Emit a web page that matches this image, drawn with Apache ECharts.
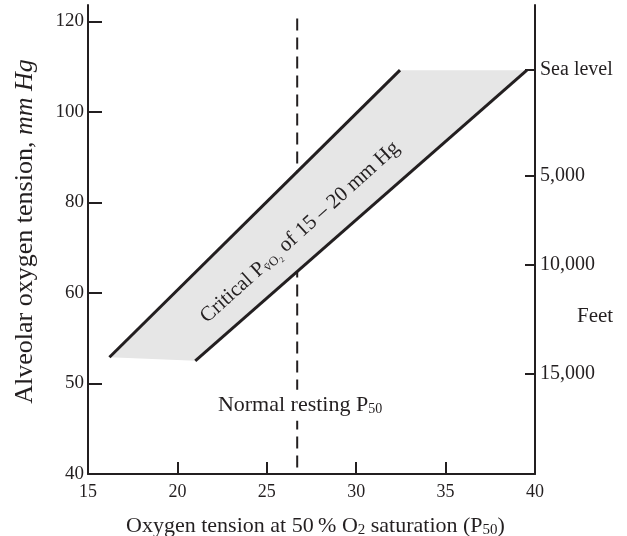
<!DOCTYPE html>
<html>
<head>
<meta charset="utf-8">
<script src="https://cdn.jsdelivr.net/npm/echarts@6/dist/echarts.min.js"></script>
<style>
	html, body { margin: 0; padding: 0; background: #fff; }
</style>
</head>
<body>
<div id="chart" style="width:627px;height:536px;"></div>
<script>
	// left axis tick labels (mm Hg) - the printed scale puts them at equal spacing
	var yTicks = [40, 50, 60, 80, 100, 120];
	// altitude scale on the right, placed at the matching alveolar tension
	var feetLabels = ['Sea level', '5,000', '10,000', '15,000'];
	var feetAt = [109.3, 85.8, 66.2, 51.1];

	// the shaded band: upper (left) and lower (right) edges
	var upperP50 = [16.2, 32.45];
	var upperPA = [52.9, 109.2];
	var lowerP50 = [21.0, 39.55];
	var lowerPA = [52.5, 109.2];

	var normalP50 = 26.7;
	var dashPA = [120.6, 40];

	// the y axis is drawn on tick positions, convert mm Hg -> position
	function toU(v) {
		var i = 0;
		while (i < yTicks.length - 2 && v > yTicks[i + 1]) i++;
		return i + (v - yTicks[i]) / (yTicks[i + 1] - yTicks[i]);
	}

	var font = 'Liberation Serif';
	var ink = '#231f20';

	var upperLine = upperP50.map(function(x, i) { return [x, toU(upperPA[i])]; });
	var lowerLine = lowerP50.map(function(x, i) { return [x, toU(lowerPA[i])]; });
	var band = upperLine.concat(lowerLine.slice().reverse());
	var feetU = feetAt.map(toU);

	var chart = echarts.init(document.getElementById('chart'));
	var option = {
		animation: false,
		grid: { left: 88, right: 92, top: 5, bottom: 62, outerBoundsMode: 'none', containLabel: false },
		xAxis: {
			type: 'value',
			min: 15,
			max: 40,
			interval: 5,
			splitLine: { show: false },
			axisLine: { lineStyle: { color: ink, width: 2 } },
			axisTick: { inside: true, length: 12, lineStyle: { color: ink, width: 2 } },
			axisLabel: { color: ink, fontFamily: font, fontSize: 18, margin: 9 },
			name: '{t|Oxygen tension at 50\u2009% O}{s|2}{t| saturation (P}{s|50}{t|)}',
			nameLocation: 'middle',
			nameGap: 40,
			nameTextStyle: {
				padding: [0, 0, 0, 8],
				rich: {
					t: { color: ink, fontFamily: font, fontSize: 22 },
					s: { color: ink, fontFamily: font, fontSize: 15, padding: [9, 0, 0, 0] }
				}
			}
		},
		yAxis: [{
				type: 'value',
				min: 0,
				max: 5.18,
				interval: 1,
				splitLine: { show: false },
				axisLine: { show: true, lineStyle: { color: ink, width: 2 } },
				axisTick: { inside: true, length: 14, lineStyle: { color: ink, width: 2 } },
				axisLabel: {
					color: ink, fontFamily: font, fontSize: 19, margin: 4,
					showMaxLabel: false,
					formatter: function(v) { return yTicks[Math.round(v)]; }
				},
				name: '{t|Alveolar oxygen tension, }{i|mm Hg}',
				nameLocation: 'middle',
				nameRotate: 90,
				nameGap: 50,
				nameTextStyle: {
					padding: [0, 0, 0, 16],
					rich: {
						t: { color: ink, fontFamily: font, fontSize: 26 },
						i: { color: ink, fontFamily: font, fontSize: 26, fontStyle: 'italic' }
					}
				}
			},
			{
				type: 'value',
				position: 'right',
				min: 0,
				max: 5.18,
				splitLine: { show: false },
				axisLine: { show: true, lineStyle: { color: ink, width: 2 } },
				axisTick: { inside: true, length: 10, customValues: feetU, lineStyle: { color: ink, width: 2 } },
				axisLabel: {
					color: ink, fontFamily: font, fontSize: 20, margin: 5,
					customValues: feetU,
					formatter: function(v) {
						var best = 0;
						feetU.forEach(function(u, i) {
							if (Math.abs(u - v) < Math.abs(feetU[best] - v)) best = i;
						});
						return feetLabels[best];
					}
				}
			}
		],
		graphic: [{
			type: 'text',
			left: 577,
			top: 306,
			style: { text: 'Feet', fill: ink, font: '21px "Liberation Serif"' }
		}],
		series: [{
				type: 'custom',
				data: [[0, 0]],
				silent: true,
				z: 3,
				renderItem: function(params, api) {
					return {
						type: 'polygon',
						shape: { points: band.map(function(p) { return api.coord(p); }) },
						style: { fill: '#e6e6e6' }
					};
				}
			},
			{
				type: 'line',
				data: upperLine,
				symbol: 'none',
				z: 4,
				lineStyle: { color: ink, width: 3 }
			},
			{
				type: 'line',
				data: lowerLine,
				symbol: 'none',
				z: 4,
				lineStyle: { color: ink, width: 3 }
			},
			{
				type: 'line',
				data: dashPA.map(function(v) { return [normalP50, toU(v)]; }),
				symbol: 'none',
				z: 2,
				lineStyle: { color: ink, width: 2, type: [12, 7] }
			},
			{
				// text labels
				type: 'scatter',
				symbolSize: 0,
				z: 5,
				itemStyle: { opacity: 1 },
				data: [{
						value: [26.86, toU(73.4)],
						label: {
							show: true,
							position: 'inside',
							rotate: 42,
							formatter: '{t|Critical P}{s|v\u0304O\u2082}{t| of 15 \u2013 20 mm Hg}',
							rich: {
								t: { color: ink, fontFamily: font, fontSize: 21 },
								s: { color: ink, fontFamily: font, fontSize: 13, padding: [9, 0, 0, 0] }
							}
						}
					},
					{
						value: [26.86, toU(47.6)],
						label: {
							show: true,
							position: 'inside',
							backgroundColor: '#fff',
							padding: [4, 6],
							formatter: '{t|Normal resting P}{s|50}',
							rich: {
								t: { color: ink, fontFamily: font, fontSize: 22 },
								s: { color: ink, fontFamily: font, fontSize: 14, padding: [9, 0, 0, 0] }
							}
						}
					}
				]
			}
		]
	};
	chart.setOption(option);
	window.addEventListener('resize', function() {
		chart.resize();
	});
</script>
</body>
</html>
